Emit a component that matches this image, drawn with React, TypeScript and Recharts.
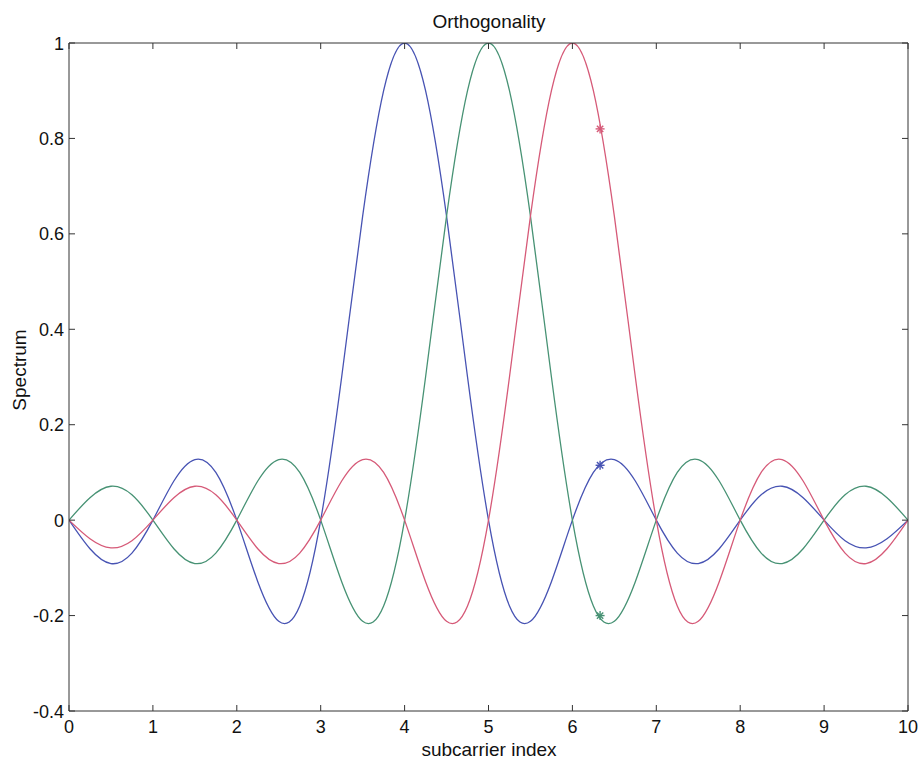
import React from 'react';
import {
  ComposedChart, Line, Scatter, XAxis, YAxis,
} from 'recharts';

// subcarrier index samples
const xs = [
  0, 0.25, 0.5, 0.75, 1, 1.25, 1.5, 1.75, 2, 2.25, 2.5, 2.75, 3, 3.25, 3.5, 3.75,
  4, 4.25, 4.5, 4.75, 5, 5.25, 5.5, 5.75, 6, 6.25, 6.5, 6.75, 7, 7.25, 7.5, 7.75,
  8, 8.25, 8.5, 8.75, 9, 9.25, 9.5, 9.75, 10,
];

// subcarrier centred on 4
const blueVals = [
  0, -0.06, -0.091, -0.069, 0, 0.082, 0.127, 0.1, 0, -0.129, -0.212, -0.18, 0, 0.3, 0.637, 0.9,
  1, 0.9, 0.637, 0.3, 0, -0.18, -0.212, -0.129, 0, 0.1, 0.127, 0.082, 0, -0.069, -0.091, -0.06,
  0, 0.053, 0.071, 0.047, 0, -0.043, -0.058, -0.039, 0,
];

// subcarrier centred on 5
const greenVals = [
  0, 0.047, 0.071, 0.053, 0, -0.06, -0.091, -0.069, 0, 0.082, 0.127, 0.1, 0, -0.129, -0.212, -0.18,
  0, 0.3, 0.637, 0.9, 1, 0.9, 0.637, 0.3, 0, -0.18, -0.212, -0.129, 0, 0.1, 0.127, 0.082,
  0, -0.069, -0.091, -0.06, 0, 0.053, 0.071, 0.047, 0,
];

// subcarrier centred on 6
const redVals = [
  0, -0.039, -0.058, -0.043, 0, 0.047, 0.071, 0.053, 0, -0.06, -0.091, -0.069, 0, 0.082, 0.127, 0.1,
  0, -0.129, -0.212, -0.18, 0, 0.3, 0.637, 0.9, 1, 0.9, 0.637, 0.3, 0, -0.18, -0.212, -0.129,
  0, 0.1, 0.127, 0.082, 0, -0.069, -0.091, -0.06, 0,
];

// sampled points (asterisks)
const markX = 6.33;
const markRed = 0.82;
const markBlue = 0.115;
const markGreen = -0.2;

const xTicks = [0, 1, 2, 3, 4, 5, 6, 7, 8, 9, 10];
const yTicks = [-0.4, -0.2, 0, 0.2, 0.4, 0.6, 0.8, 1];

const BLUE = '#4753b3';
const GREEN = '#479274';
const RED = '#d65a78';
const AXIS = '#333';
const FONT = '"Liberation Sans", Arial, sans-serif';

// tick props arrive offset by tickSize + tickMargin (6 + 2) from the axis line
const OFF = 8;

const data = xs.map((x, i) => ({ x, blue: blueVals[i], green: greenVals[i], red: redVals[i] }));

const BottomTick = ({ x, y, payload }: any) => {
  const ay = y - OFF;
  return (
    <g>
      <line x1={x} x2={x} y1={ay} y2={ay - 6} stroke={AXIS} />
      <text x={x} y={ay + 22} textAnchor="middle" fontSize={18} fill="#111" fontFamily={FONT}>
        {payload.value}
      </text>
    </g>
  );
};

const TopTick = ({ x, y }: any) => {
  const ay = y + OFF;
  return <line x1={x} x2={x} y1={ay} y2={ay + 6} stroke={AXIS} />;
};

const LeftTick = ({ x, y, payload }: any) => {
  const ax = x + OFF;
  return (
    <g>
      <line x1={ax} x2={ax + 6} y1={y} y2={y} stroke={AXIS} />
      <text x={ax - 5} y={y + 6.5} textAnchor="end" fontSize={18} fill="#111" fontFamily={FONT}>
        {payload.value}
      </text>
    </g>
  );
};

const RightTick = ({ x, y }: any) => {
  const ax = x - OFF;
  return <line x1={ax} x2={ax - 6} y1={y} y2={y} stroke={AXIS} />;
};

const asterisk = (color: string) => (props: any) => {
  const { cx, cy } = props;
  const r = 4.5;
  const d = r * 0.707;
  return (
    <g stroke={color} strokeWidth={1.4}>
      <line x1={cx - r} x2={cx + r} y1={cy} y2={cy} />
      <line x1={cx} x2={cx} y1={cy - r} y2={cy + r} />
      <line x1={cx - d} x2={cx + d} y1={cy - d} y2={cy + d} />
      <line x1={cx - d} x2={cx + d} y1={cy + d} y2={cy - d} />
    </g>
  );
};

export default function App() {
  return (
    <div style={{ position: 'absolute', left: 0, top: 0, width: 923, height: 760, background: '#fff', fontFamily: FONT }}>
      <div style={{ position: 'absolute', left: 389, width: 200, top: 11, textAlign: 'center', fontSize: 19, color: '#111' }}>
        Orthogonality
      </div>
      <div style={{ position: 'absolute', left: 389, width: 200, top: 739, textAlign: 'center', fontSize: 19, color: '#111' }}>
        subcarrier index
      </div>
      <div style={{ position: 'absolute', left: 20, top: 370, width: 0, height: 0 }}>
        <div style={{ position: 'absolute', transform: 'translate(-50%, -50%) rotate(-90deg)', whiteSpace: 'nowrap', fontSize: 19, color: '#111' }}>
          Spectrum
        </div>
      </div>
      <ComposedChart
        width={923}
        height={760}
        data={data}
        margin={{ top: 42, right: 14, bottom: 48, left: 0 }}
      >
        <XAxis
          dataKey="x"
          type="number"
          domain={[0, 10]}
          ticks={xTicks}
          height={1}
          tickSize={6}
          tickMargin={2}
          tickLine={false}
          axisLine={{ stroke: AXIS }}
          tick={<BottomTick />}
          interval={0}
          allowDataOverflow
        />
        <XAxis
          xAxisId="top"
          orientation="top"
          dataKey="x"
          type="number"
          domain={[0, 10]}
          ticks={xTicks}
          height={1}
          tickSize={6}
          tickMargin={2}
          tickLine={false}
          axisLine={{ stroke: AXIS }}
          tick={<TopTick />}
          interval={0}
          allowDataOverflow
        />
        <YAxis
          type="number"
          domain={[-0.4, 1]}
          ticks={yTicks}
          width={69}
          tickSize={6}
          tickMargin={2}
          tickLine={false}
          axisLine={{ stroke: AXIS }}
          tick={<LeftTick />}
          interval={0}
          allowDataOverflow
        />
        <YAxis
          yAxisId="right"
          orientation="right"
          type="number"
          domain={[-0.4, 1]}
          ticks={yTicks}
          width={1}
          tickSize={6}
          tickMargin={2}
          tickLine={false}
          axisLine={{ stroke: AXIS }}
          tick={<RightTick />}
          interval={0}
          allowDataOverflow
        />
        <Line type="natural" dataKey="blue" stroke={BLUE} strokeWidth={1.3} dot={false} isAnimationActive={false} />
        <Line type="natural" dataKey="green" stroke={GREEN} strokeWidth={1.3} dot={false} isAnimationActive={false} />
        <Line type="natural" dataKey="red" stroke={RED} strokeWidth={1.3} dot={false} isAnimationActive={false} />
        <Scatter data={[{ x: markX, y: markRed }]} dataKey="y" shape={asterisk(RED)} isAnimationActive={false} />
        <Scatter data={[{ x: markX, y: markBlue }]} dataKey="y" shape={asterisk(BLUE)} isAnimationActive={false} />
        <Scatter data={[{ x: markX, y: markGreen }]} dataKey="y" shape={asterisk(GREEN)} isAnimationActive={false} />
      </ComposedChart>
    </div>
  );
}
